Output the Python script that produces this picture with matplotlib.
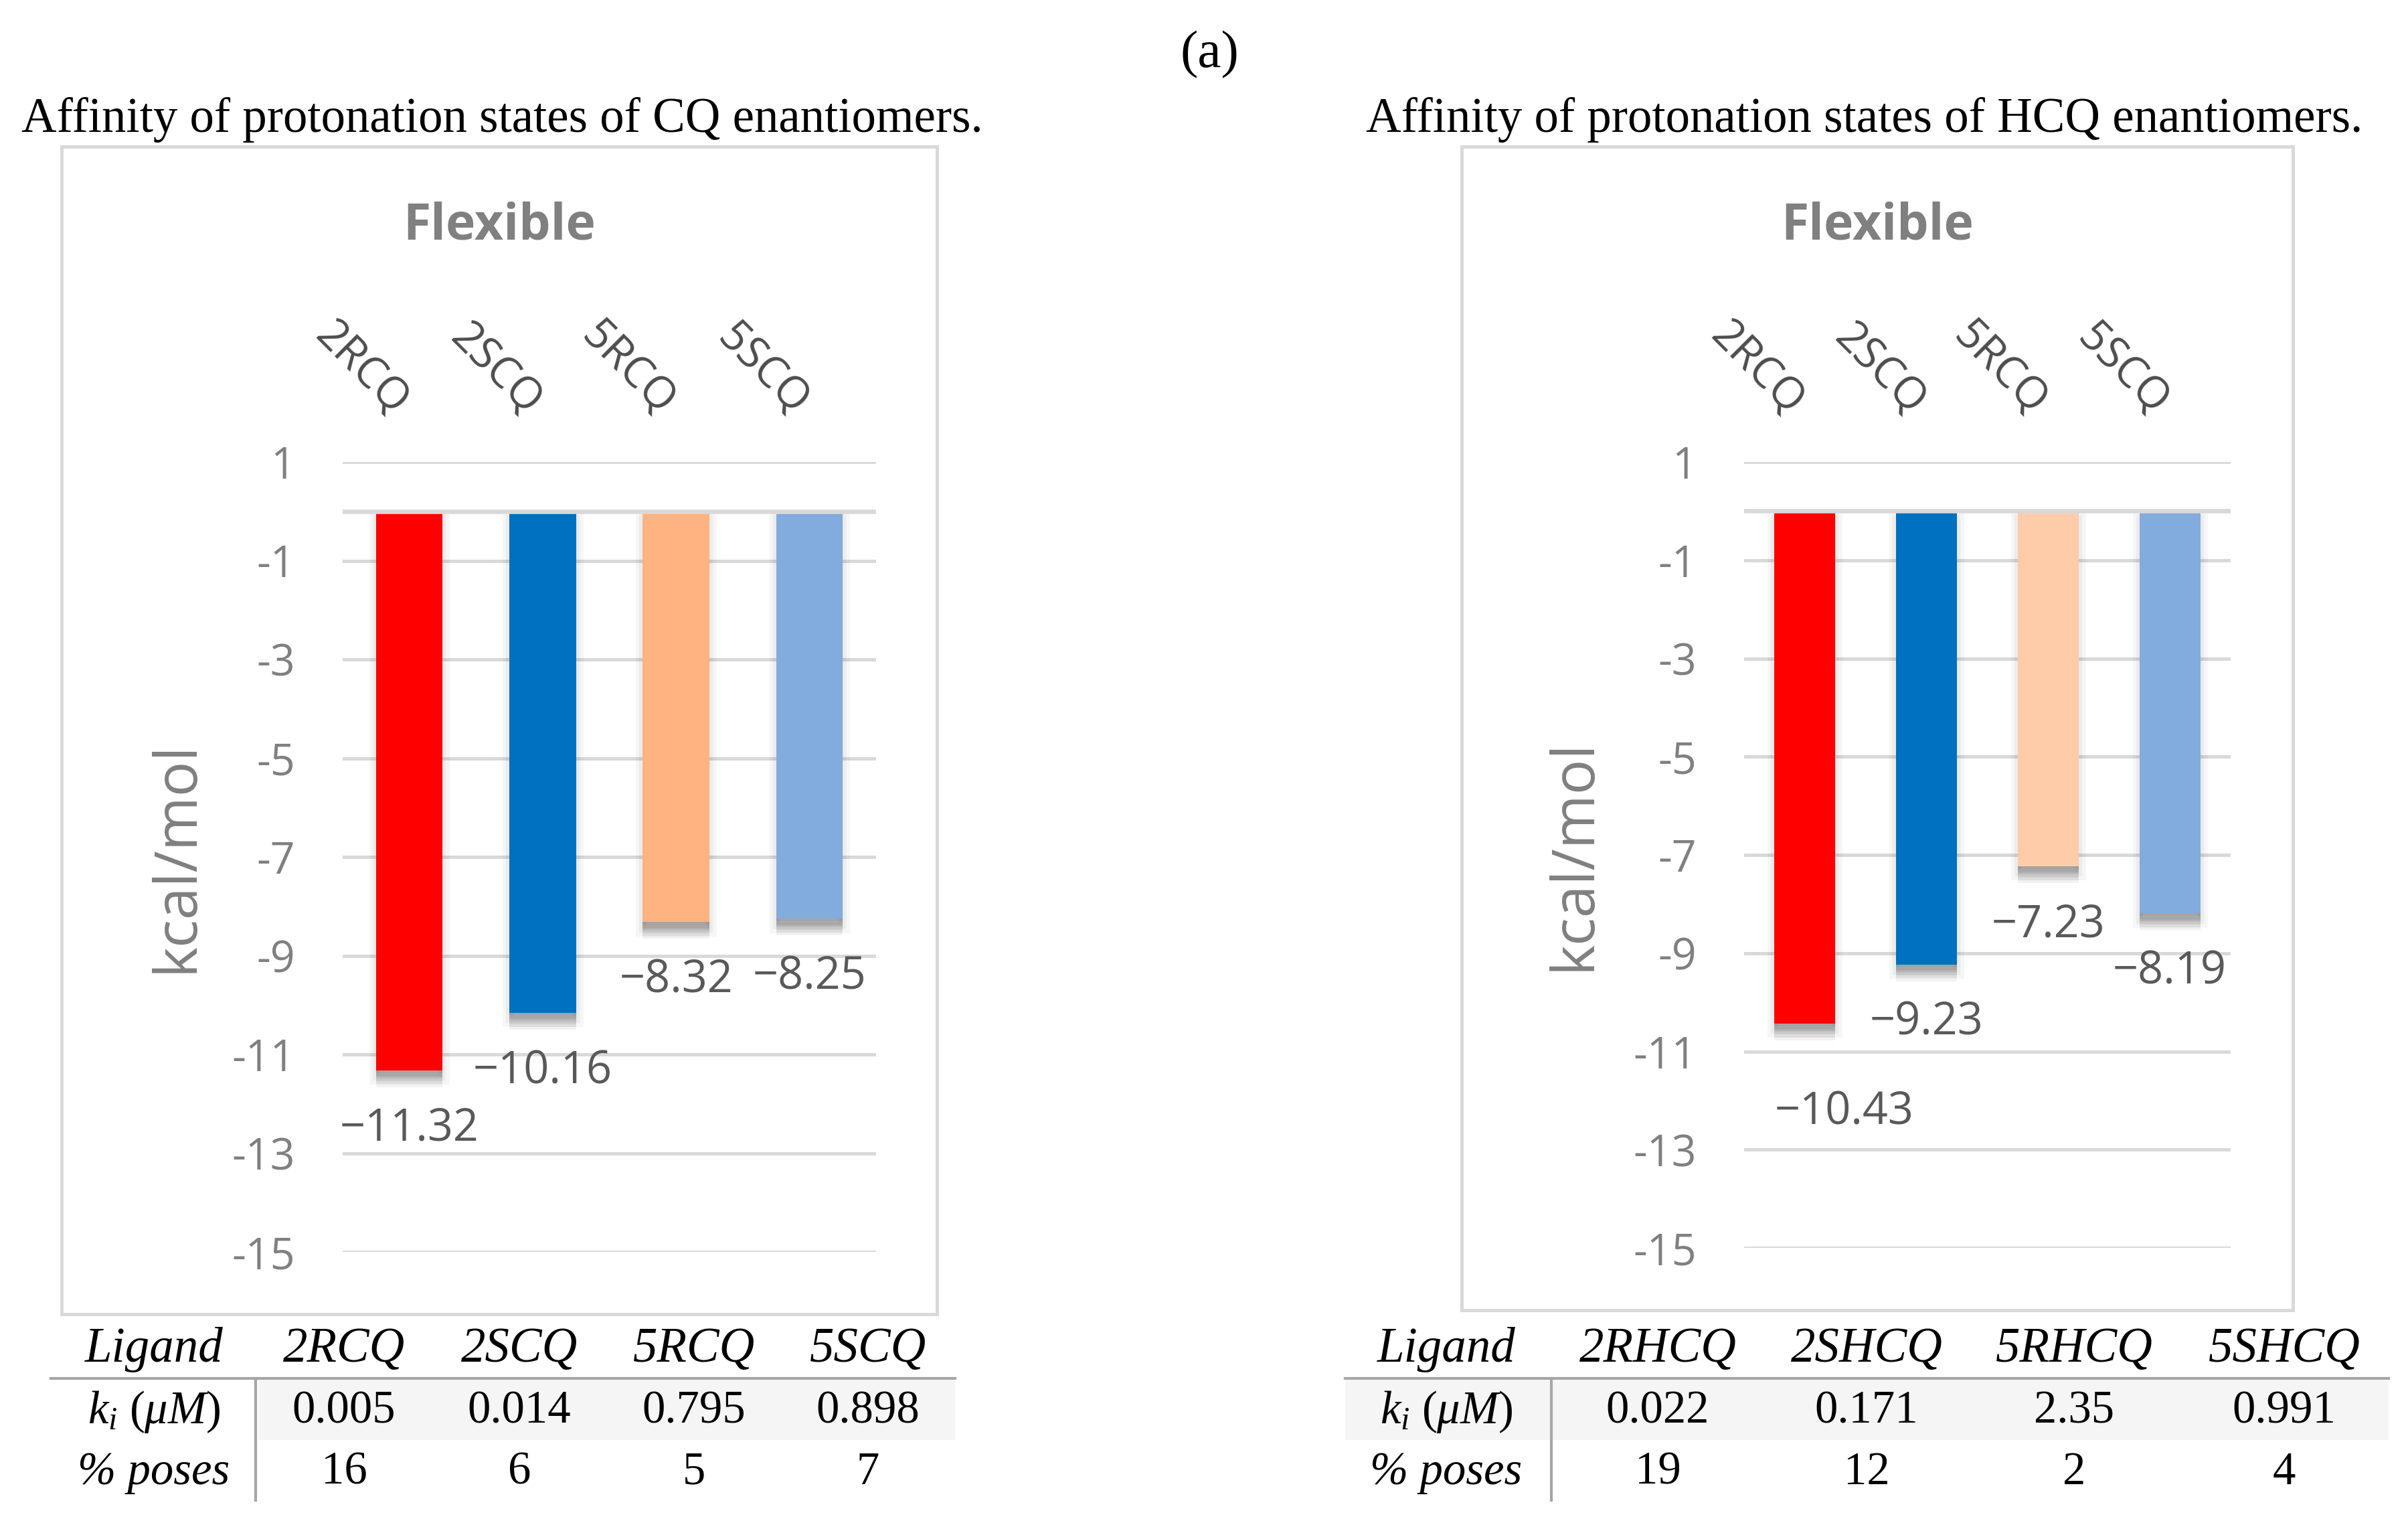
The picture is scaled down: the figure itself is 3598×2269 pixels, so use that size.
import matplotlib
matplotlib.use('Agg')
import matplotlib.pyplot as plt
import matplotlib.patheffects as pe
from matplotlib.patches import Rectangle
from matplotlib.lines import Line2D

# fuentes: serif para títulos y tabla, sans para el gráfico
plt.rcParams['axes.unicode_minus'] = False
plt.rcParams['mathtext.fontset'] = 'custom'
plt.rcParams['mathtext.it'] = 'Liberation Serif:italic'
plt.rcParams['mathtext.rm'] = 'Liberation Serif'
plt.rcParams['mathtext.default'] = 'it'

SANS = 'Open Sans'
SERIF = 'Liberation Serif'

# --- datos ---
cq_bar_names = ['2RCQ', '2SCQ', '5RCQ', '5SCQ']
cq_affinity = [-11.32, -10.16, -8.32, -8.25]
cq_ligands = ['2RCQ', '2SCQ', '5RCQ', '5SCQ']
cq_ki = ['0.005', '0.014', '0.795', '0.898']
cq_poses = ['16', '6', '5', '7']

hcq_bar_names = ['2RCQ', '2SCQ', '5RCQ', '5SCQ']  # el original repite los nombres CQ
hcq_affinity = [-10.43, -9.23, -7.23, -8.19]
hcq_ligands = ['2RHCQ', '2SHCQ', '5RHCQ', '5SHCQ']
hcq_ki = ['0.022', '0.171', '2.35', '0.991']
hcq_poses = ['19', '12', '2', '4']

y_ticks = list(range(1, -16, -2))

cq_colors = ['#FF0000', '#0070C0', '#FFB380', '#82ABDE']
hcq_colors = ['#FF0000', '#0070C0', '#FFCCAA', '#82ABDE']

W, H = 3598, 2269
DPI = 300
fig = plt.figure(figsize=(W / DPI, H / DPI), dpi=DPI)


def fx(px):
    return px / W


def fy(py):
    return 1 - py / H


def bar_shadow():
    # sombra difusa hacia abajo, imitando la de Excel
    fx_list = [pe.SimplePatchShadow(offset=(0, -2.5), shadow_rgbFace='k', alpha=0.035,
                                    linewidth=5, foreground='k'),
               pe.SimplePatchShadow(offset=(0, -2.5), shadow_rgbFace='k', alpha=0.04,
                                    linewidth=2.5, foreground='k')]
    for dy in (1, 2, 3, 4, 5, 6):
        fx_list.append(pe.SimplePatchShadow(offset=(0, -dy), shadow_rgbFace='k', alpha=0.05))
    fx_list.append(pe.Normal())
    return fx_list


def draw_panel(ax_px, box_px, ylabel_x, names, values, colors, label_offsets):
    x0, y0, x1, y1 = ax_px
    ax = fig.add_axes([fx(x0), fy(y1), fx(x1) - fx(x0), fy(y0) - fy(y1)])

    # marco del área del gráfico
    bx0, by0, bx1, by1 = box_px
    fig.patches.append(Rectangle((fx(bx0), fy(by1)), fx(bx1) - fx(bx0), fy(by0) - fy(by1),
                                 transform=fig.transFigure, fill=False,
                                 edgecolor='#D9D9D9', linewidth=1.2, zorder=0))
    fig.text(fx((bx0 + bx1) / 2), fy(338), 'Flexible', family=SANS, fontsize=18,
             fontweight='bold', color='#808080', ha='center', va='center')

    xs = list(range(len(values)))
    bars = ax.bar(xs, values, width=0.5, color=colors, zorder=3)
    for b in bars:
        b.set_path_effects(bar_shadow())

    ax.set_xlim(-0.5, len(values) - 0.5)
    ax.set_ylim(-15, 1)
    ax.set_yticks(y_ticks)
    ax.set_yticklabels([str(t) for t in y_ticks], family=SANS, fontsize=15.5, color='#808080')
    ax.tick_params(axis='y', length=0, pad=17)
    ax.set_xticks([])
    ax.grid(axis='y', color='#D9D9D9', linewidth=1.2, zorder=0)
    ax.set_axisbelow(True)
    ax.axhline(0, color='#D9D9D9', linewidth=1.6, zorder=4)
    for s in ax.spines.values():
        s.set_visible(False)

    ax.set_ylabel('kcal/mol', family=SANS, fontsize=21, color='#808080', va='center')
    ax.yaxis.set_label_coords((ylabel_x - x0) / (x1 - x0), 0.5)

    # nombres de categoría arriba, girados
    for x, name in zip(xs, names):
        ax.annotate(name, xy=(x, 1), xycoords=('data', 'axes fraction'),
                    xytext=(-3, 19), textcoords='offset points', rotation=-45,
                    rotation_mode='anchor', ha='right', va='center',
                    family=SANS, fontsize=15.5, color='#4D4D4D')

    # etiquetas de datos
    for x, v, off in zip(xs, values, label_offsets):
        ax.annotate(f'\u2212{abs(v):.2f}', xy=(x, v), xytext=off, textcoords='offset points',
                    ha='center', va='center', family=SANS, fontsize=16, color='#595959')
    return ax


def draw_table(col_px, line_x, vline_x, bg_x0, ligands, ki, poses):
    rows_y = [2016, 2109, 2200]
    # fondo gris de la fila ki
    fig.patches.append(Rectangle((fx(bg_x0), fy(2151)), fx(line_x[1]) - fx(bg_x0),
                                 fy(2062) - fy(2151), transform=fig.transFigure,
                                 facecolor='#F5F5F5', edgecolor='none', zorder=0))
    fig.lines.append(Line2D([fx(line_x[0]), fx(line_x[1])], [fy(2059), fy(2059)],
                            transform=fig.transFigure, color='#A6A6A6', linewidth=1.0))
    fig.lines.append(Line2D([fx(vline_x), fx(vline_x)], [fy(2059), fy(2241)],
                            transform=fig.transFigure, color='#A6A6A6', linewidth=1.0))

    header = ['Ligand'] + ligands
    for cx, t in zip(col_px, header):
        fig.text(fx(cx), fy(rows_y[0]), t, family=SERIF, style='italic', fontsize=17.5,
                 ha='center', va='center', color='black')
    row_ki = [r'$k_i\ (\mu M)$'] + ki
    row_poses = ['% poses'] + poses
    for cx, t in zip(col_px, row_ki):
        fig.text(fx(cx), fy(rows_y[1]), t, family=SERIF, fontsize=16.5,
                 ha='center', va='center', color='black')
    for i, (cx, t) in enumerate(zip(col_px, row_poses)):
        fig.text(fx(cx), fy(rows_y[2]), t, family=SERIF, fontsize=16.5,
                 style='italic' if i == 0 else 'normal', ha='center', va='center', color='black')


# títulos
fig.text(fx(1807), fy(82), '(a)', family=SERIF, fontsize=19, ha='center', va='center')
fig.text(fx(32), fy(179), 'Affinity of protonation states of CQ enantiomers.',
         family=SERIF, fontsize=17.5, ha='left', va='center')
fig.text(fx(2041), fy(179), 'Affinity of protonation states of HCQ enantiomers.',
         family=SERIF, fontsize=17.5, ha='left', va='center')

draw_panel((512, 690, 1309, 1870), (92, 219, 1400, 1963), 264, cq_bar_names, cq_affinity,
           cq_colors, [(0, -21)] * 4)
draw_panel((2606, 690, 3333, 1864), (2184, 219, 3426, 1957), 2353, hcq_bar_names, hcq_affinity,
           hcq_colors, [(14, -32), (0, -21), (0, -21), (0, -21)])

draw_table([230, 514, 776, 1037, 1297], (76, 1427), 382, 386, cq_ligands, cq_ki, cq_poses)
draw_table([2161, 2477, 2789, 3099, 3413], (2010, 3569), 2318, 2010, hcq_ligands, hcq_ki, hcq_poses)

fig.savefig('out.png', dpi=DPI, facecolor='white')
